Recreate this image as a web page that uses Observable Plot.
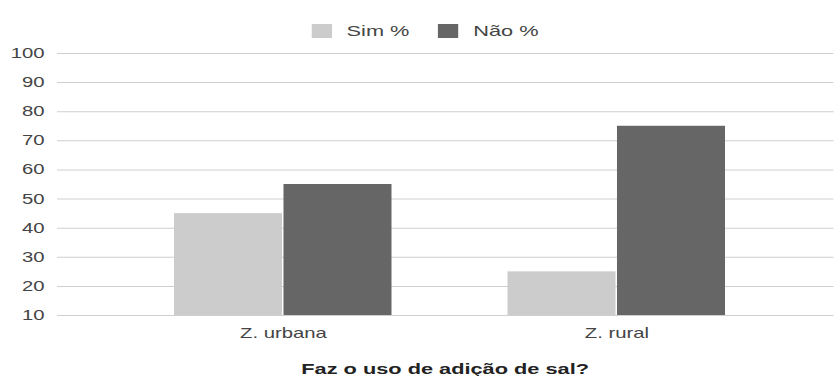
<!DOCTYPE html>
<html>
<head>
<meta charset="utf-8">
<script src="https://cdn.jsdelivr.net/npm/d3@7"></script>
<script src="https://cdn.jsdelivr.net/npm/@observablehq/plot@0.6"></script>
<style>
  html, body { margin: 0; padding: 0; background: #fff; overflow: hidden; }
  #wrap {
    width: 575px;
    transform: scaleX(1.45);
    transform-origin: 0 0;
    font-family: "Liberation Sans", Arial, sans-serif;
    color: #444;
  }
  #legend {
    height: 44px;
    box-sizing: border-box;
    padding-top: 18px;
    padding-left: 215px;
    display: flex;
    align-items: center;
    font-size: 15px;
    line-height: 14px;
  }
  .sw { width: 14px; height: 14px; display: inline-block; margin-right: 10px; }
  .item { display: flex; align-items: center; margin-right: 20px; }
  #title {
    padding-left: 39px;
    padding-top: 15px;
    text-align: center;
    font-weight: bold;
    font-size: 15px;
    line-height: 18px;
    color: #222;
  }
  svg { display: block; }
</style>
</head>
<body>
<div id="wrap">
  <div id="legend"></div>
  <div id="chart"></div>
  <div id="title"></div>
</div>
<script>
const zones = ["Z. urbana", "Z. rural"];
const seriesNames = ["Sim %", "Não %"];
const simValues = [45, 25];
const naoValues = [55, 75];
const yTicks = [10, 20, 30, 40, 50, 60, 70, 80, 90, 100];
const baseline = 10;
const colors = ["#cccccc", "#666666"];
const titleText = "Faz o uso de adição de sal?";

const simData = zones.map((z, i) => ({zone: z, value: simValues[i]}));
const naoData = zones.map((z, i) => ({zone: z, value: naoValues[i]}));

const legend = document.getElementById("legend");
seriesNames.forEach((name, i) => {
  const item = document.createElement("div");
  item.className = "item";
  const sw = document.createElement("span");
  sw.className = "sw";
  sw.style.background = colors[i];
  const t = document.createElement("span");
  t.textContent = name;
  item.appendChild(sw);
  item.appendChild(t);
  legend.appendChild(item);
});

const chart = Plot.plot({
  width: 575,
  height: 301,
  marginTop: 9,
  marginBottom: 30,
  marginLeft: 39.3,
  marginRight: 0,
  style: {fontSize: "14px", fontFamily: "'Liberation Sans', Arial, sans-serif", color: "#444", background: "#fff"},
  x: {domain: zones, paddingInner: 0.35, paddingOuter: 0.338, align: 0.514, tickSize: 0, tickPadding: 13, label: null},
  y: {domain: [baseline, 100], ticks: yTicks, tickSize: 0, tickPadding: 9, label: null},
  marks: [
    Plot.ruleY(yTicks, {stroke: "#cfcfcf", strokeWidth: 1}),
    Plot.barY(simData, {x: "zone", y1: baseline, y2: "value", fill: colors[0], insetRight: 75.5, insetLeft: 0}),
    Plot.barY(naoData, {x: "zone", y1: baseline, y2: "value", fill: colors[1], insetLeft: 75.5, insetRight: 0})
  ]
});
document.getElementById("chart").appendChild(chart);
document.getElementById("title").textContent = titleText;
</script>
</body>
</html>
